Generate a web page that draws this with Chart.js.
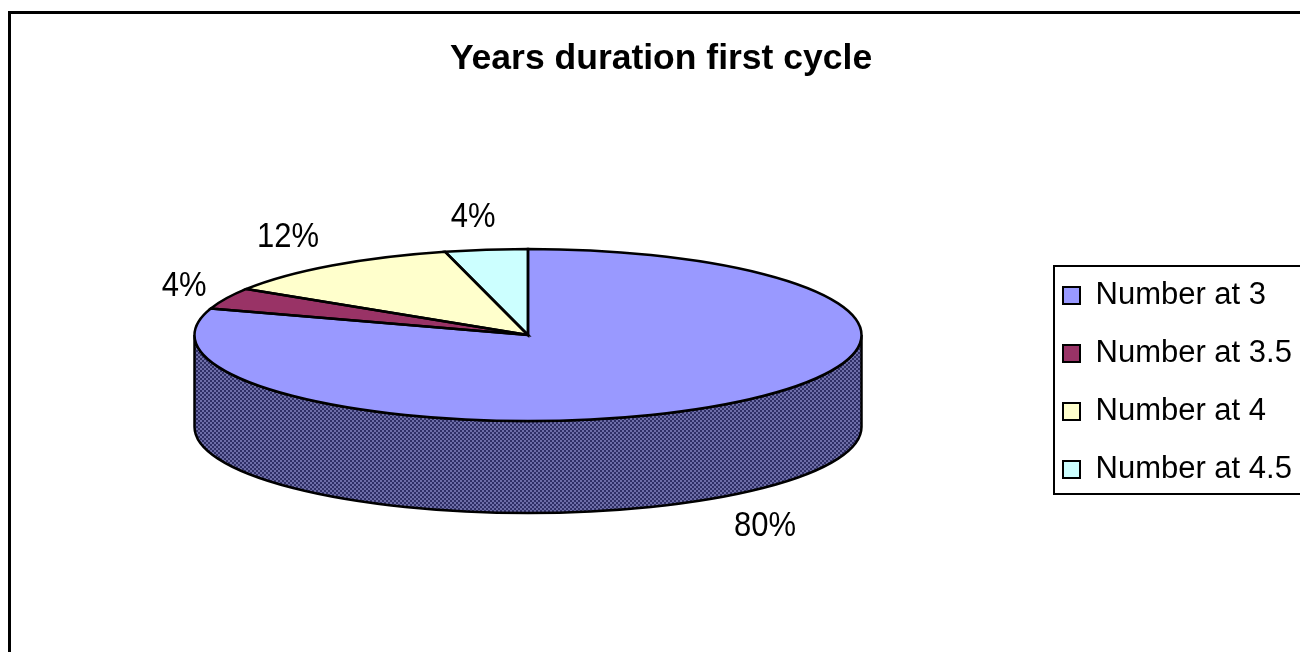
<!DOCTYPE html>
<html>
<head>
<meta charset="utf-8">
<style>
html,body{margin:0;padding:0;background:#fff;overflow:hidden;width:1300px;height:652px}
canvas{display:block}
</style>
<script src="https://cdn.jsdelivr.net/npm/chart.js@4/dist/chart.umd.min.js"></script>
</head>
<body>
<canvas id="c" width="1322" height="652" style="width:1322px;height:652px"></canvas>
<script>
const titleText = 'Years duration first cycle';
const categories = ['Number at 3', 'Number at 3.5', 'Number at 4', 'Number at 4.5'];
const shares = [80, 4, 12, 4];
const sliceColors = ['#9999FF', '#993366', '#FFFFCC', '#CCFFFF'];

// tilt of the pie, and where each percent label sits relative to its slice rim
const TILT = 86 / 333.5;
const DEPTH = 92;
const labelOffsets = [[41, 122], [-42, -12], [-44, -28], [-13, -32]];

function ditherPattern(ctx) {
  const p = document.createElement('canvas');
  p.width = p.height = 4;
  const g = p.getContext('2d');
  g.fillStyle = '#2F2F66'; g.fillRect(0, 0, 4, 4);
  g.fillStyle = '#6E6EA8'; g.fillRect(0, 0, 2, 2); g.fillRect(2, 2, 2, 2);
  return ctx.createPattern(p, 'repeat');
}

function tilt(ctx, a) {
  ctx.translate(a.x, a.y);
  ctx.scale(1, TILT);
  ctx.translate(-a.x, -a.y);
}

const pie3d = {
  id: 'pie3d',
  afterLayout(chart) {
    const targetLeft = 1036;
    const naturalLeft = chart.legend.left;
    chart.legend.top += 253;
    chart.legend.bottom += 253;
    chart.legend.left = targetLeft;
    chart.legend.right += targetLeft - naturalLeft;
    chart.chartArea.right = 1034;
  },
  beforeDraw(chart) {
    const ctx = chart.ctx;
    ctx.save();
    ctx.strokeStyle = '#000';
    ctx.lineWidth = 3;
    ctx.beginPath();
    ctx.moveTo(9.5, 652);
    ctx.lineTo(9.5, 12.5);
    ctx.lineTo(1322, 12.5);
    ctx.stroke();
    // legend frame
    const l = chart.legend;
    ctx.lineWidth = 2;
    ctx.strokeRect(l.left + 18, 266, 400, 228);
    ctx.restore();
  },
  beforeDatasetsDraw(chart) {
    const ctx = chart.ctx;
    const arcs = chart.getDatasetMeta(0).data;
    const pattern = ditherPattern(ctx);
    arcs.forEach(a => {
      const s = Math.max(a.startAngle, 0);
      const e = Math.min(a.endAngle, Math.PI);
      if (e <= s) return;
      ctx.save();
      tilt(ctx, a);
      ctx.beginPath();
      ctx.arc(a.x, a.y, a.outerRadius, s, e);
      ctx.arc(a.x, a.y + DEPTH / TILT, a.outerRadius, e, s, true);
      ctx.closePath();
      ctx.restore();
      ctx.save();
      ctx.fillStyle = pattern;
      ctx.fill();
      ctx.strokeStyle = '#000';
      ctx.lineWidth = 2.5;
      ctx.stroke();
      ctx.restore();
    });
    ctx.save();
    tilt(ctx, arcs[0]);
  },
  afterDatasetsDraw(chart) {
    const ctx = chart.ctx;
    ctx.restore();
    const arcs = chart.getDatasetMeta(0).data;
    const total = shares.reduce((x, y) => x + y, 0);
    arcs.forEach((a, i) => {
      ctx.save();
      tilt(ctx, a);
      ctx.beginPath();
      ctx.moveTo(a.x, a.y);
      ctx.arc(a.x, a.y, a.outerRadius, a.startAngle, a.endAngle);
      ctx.closePath();
      ctx.restore();
      ctx.save();
      ctx.strokeStyle = '#000';
      ctx.lineWidth = 2.5;
      ctx.stroke();
      ctx.restore();
    });
    arcs.forEach((a, i) => {
      const mid = (a.startAngle + a.endAngle) / 2;
      const x = a.x + a.outerRadius * Math.cos(mid) + labelOffsets[i][0];
      const y = a.y + a.outerRadius * TILT * Math.sin(mid) + labelOffsets[i][1];
      ctx.save();
      ctx.translate(x, y);
      ctx.scale(1, 1.13);
      ctx.fillStyle = '#000';
      ctx.font = '31px "Liberation Sans"';
      ctx.textAlign = 'center';
      ctx.textBaseline = 'middle';
      ctx.fillText(Math.round(shares[i] / total * 100) + '%', 0, 0);
      ctx.restore();
    });
  }
};

new Chart(document.getElementById('c'), {
  type: 'pie',
  data: {
    labels: categories,
    datasets: [{
      data: shares,
      backgroundColor: sliceColors,
      borderWidth: 0,
      clip: false,
      radius: 333.5
    }]
  },
  options: {
    responsive: false,
    animation: false,
    devicePixelRatio: 1,
    layout: { padding: { left: 22, right: 22, top: 0, bottom: 67 } },
    plugins: {
      tooltip: { enabled: false },
      title: {
        display: true,
        text: titleText,
        color: '#000',
        font: { family: '"Liberation Sans"', size: 35.5, weight: 'bold', lineHeight: 1.2 },
        padding: { top: 38, bottom: 4.4 }
      },
      legend: {
        position: 'right',
        align: 'start',
        labels: {
          color: '#000',
          font: { family: '"Liberation Sans"', size: 31 },
          boxWidth: 17,
          boxHeight: 17,
          padding: 27,
          generateLabels(chart) {
            return Chart.overrides.pie.plugins.legend.labels.generateLabels(chart)
              .map(item => Object.assign(item, { strokeStyle: '#000', lineWidth: 2 }));
          }
        }
      }
    }
  },
  plugins: [pie3d]
});
</script>
</body>
</html>
